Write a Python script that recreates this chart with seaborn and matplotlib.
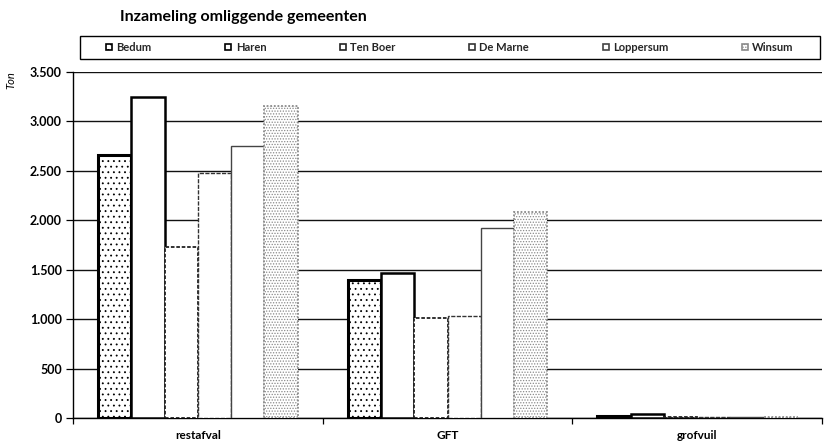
import matplotlib
matplotlib.use("Agg")
import matplotlib.pyplot as plt
import matplotlib.ticker as mticker
from matplotlib.patches import Rectangle, Patch
import seaborn as sns
import pandas as pd

categories = ["restafval", "GFT", "grofvuil"]
gemeenten = ["Bedum", "Haren", "Ten Boer", "De Marne", "Loppersum", "Winsum"]
bedum = [2660, 1395, 20]
haren = [3245, 1465, 45]
ten_boer = [1725, 1010, 5]
de_marne = [2475, 1030, 5]
loppersum = [2750, 1920, 15]
winsum = [3155, 2080, 15]
yticks = [0, 500, 1000, 1500, 2000, 2500, 3000, 3500]

series = [bedum, haren, ten_boer, de_marne, loppersum, winsum]
rows = []
for g, vals in zip(gemeenten, series):
    for c, v in zip(categories, vals):
        rows.append({"categorie": c, "gemeente": g, "ton": v})
df = pd.DataFrame(rows)

sns.set_theme(style="white")
plt.rcParams["font.family"] = ["Lato", "DejaVu Sans"]
plt.rcParams["hatch.linewidth"] = 0.6

fig = plt.figure(figsize=(8.24, 4.47), dpi=100)
ax = fig.add_axes([0.0886, 0.0649, 0.909, 0.774])

sns.barplot(data=df, x="categorie", y="ton", hue="gemeente", order=categories,
            hue_order=gemeenten, width=0.8, ax=ax, legend=False, errorbar=None,
            palette=["white"] * 6, saturation=1, zorder=3)

styles = [
    dict(ec="black", lw=2.2, hatch="...", ls="-"),
    dict(ec="black", lw=1.8, hatch=None, ls="-"),
    dict(ec="#222222", lw=1.3, hatch=None, ls=(0, (2, 1))),
    dict(ec="#333333", lw=1.0, hatch=None, ls=(0, (3, 1))),
    dict(ec="#444444", lw=1.0, hatch=None, ls="-"),
    dict(ec="#8a8a8a", lw=1.3, hatch="......", ls=(0, (1, 1))),
]
for cont, st in zip(ax.containers, styles):
    for p in cont:
        p.set_facecolor("white")
        p.set_edgecolor(st["ec"])
        p.set_linewidth(st["lw"])
        p.set_linestyle(st["ls"])
        if st["hatch"]:
            p.set_hatch(st["hatch"])
        p.set_zorder(3)

ax.set_xlim(-0.5, 2.5)
ax.set_ylim(0, 3500)
ax.set_yticks(yticks)
ax.yaxis.set_major_formatter(mticker.FuncFormatter(lambda v, p: f"{v:,.0f}".replace(",", ".")))
ax.grid(axis="y", color="#111111", lw=1.0, zorder=0)
ax.grid(axis="x", visible=False)
ax.set_axisbelow(True)
for s in ["top", "right"]:
    ax.spines[s].set_visible(False)
for s in ["left", "bottom"]:
    ax.spines[s].set_color("black")
    ax.spines[s].set_linewidth(1.0)

ax.set_xlabel("")
ax.set_ylabel("")
ax.tick_params(axis="y", left=True, length=5, width=0.9, color="black",
               labelsize=9, pad=3)
ax.tick_params(axis="x", which="major", length=0, labelsize=8.5, pad=9)
ax.set_xticks([-0.5, 0.5, 1.5, 2.5], minor=True)
ax.tick_params(axis="x", which="minor", bottom=True, length=4, width=0.9, color="black")
for lab in ax.get_yticklabels() + ax.get_xticklabels():
    lab.set_fontweight("bold")
    lab.set_color("black")

fig.text(0.013, 0.84, "Ton", rotation=90, ha="center", va="top",
         fontsize=8, fontstyle="italic", color="black")
fig.text(0.146, 0.962, "Inzameling omliggende gemeenten", ha="left", va="center",
         fontsize=11.5, fontweight="bold", color="black")

fig.patches.append(Rectangle((0.097, 0.868), 0.898, 0.0515, transform=fig.transFigure,
                             fill=False, ec="black", lw=1.0))
handles = [Patch(facecolor="white", edgecolor=st["ec"], linewidth=1.2,
                 hatch=st["hatch"]) for st in styles]
leg = fig.legend(handles, gemeenten, loc="center", bbox_to_anchor=(0.546, 0.894),
                 ncol=6, frameon=False, handlelength=0.55, handleheight=0.55,
                 handletextpad=0.4, columnspacing=6.6,
                 prop={"size": 8, "weight": "bold"})

fig.savefig("out.png", dpi=100)
